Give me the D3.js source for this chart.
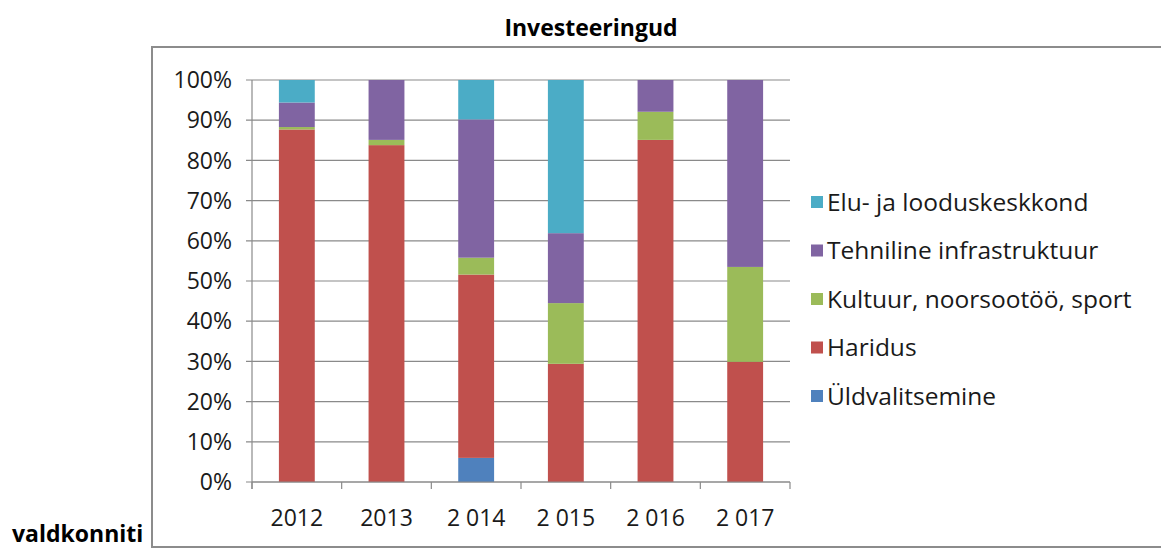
<!DOCTYPE html>
<html>
<head>
<meta charset="utf-8">
<script src="https://cdn.jsdelivr.net/npm/d3@7"></script>
<style>
  body { margin: 0; background: #fff; }
  svg { font-family: "Open Sans", "Noto Sans", sans-serif; }
</style>
</head>
<body>
<svg id="chart" width="1161" height="549"></svg>
<script>
// years on the x axis (labels as printed)
const years = ["2012", "2013", "2 014", "2 015", "2 016", "2 017"];
// segment sizes in % of the year's total, bottom to top
const yldvalitsemine = [0, 0, 6.0, 0, 0, 0];
const haridus = [87.7, 83.8, 45.6, 29.4, 85.1, 29.9];
const kultuur = [0.6, 1.3, 4.2, 15.1, 7.0, 23.6];
const tehniline = [6.1, 14.9, 34.4, 17.4, 7.9, 46.5];
const elu = [5.6, 0, 9.8, 38.1, 0, 0];
const seriesNames = ["Üldvalitsemine", "Haridus", "Kultuur, noorsootöö, sport", "Tehniline infrastruktuur", "Elu- ja looduskeskkond"];
const seriesColors = ["#4F81BD", "#C0504D", "#9BBB59", "#8064A2", "#4BACC6"];
const yTicks = [0, 10, 20, 30, 40, 50, 60, 70, 80, 90, 100];

const rows = years.map((y, i) => ({
    year: y,
    [seriesNames[0]]: yldvalitsemine[i],
    [seriesNames[1]]: haridus[i],
    [seriesNames[2]]: kultuur[i],
    [seriesNames[3]]: tehniline[i],
    [seriesNames[4]]: elu[i]
}));

const svg = d3.select("#chart");
const margin = { top: 80, left: 252 };
const width = 538, height = 402;

// frame (runs off the right edge)
svg.append("path")
    .attr("d", "M1163,547 L152,547 L152,47 L1163,47")
    .attr("fill", "none")
    .attr("stroke", "#8c8c8c")
    .attr("stroke-width", 2);

svg.append("text")
    .attr("x", 591).attr("y", 36)
    .attr("text-anchor", "middle")
    .attr("font-weight", "bold")
    .attr("font-size", 23)
    .text("Investeeringud");

svg.append("text")
    .attr("x", 12).attr("y", 542)
    .attr("font-weight", "bold")
    .attr("font-size", 23)
    .text("valdkonniti");

const chart = svg.append("g").attr("transform", `translate(${margin.left},${margin.top})`);

const x = d3.scaleBand().domain(years).range([0, width]).paddingInner(0.6).paddingOuter(0.3);
const y = d3.scaleLinear().domain([0, 100]).range([height, 0]);
const color = d3.scaleOrdinal().domain(seriesNames).range(seriesColors);

// gridlines
chart.append("g")
    .selectAll("line")
    .data(yTicks)
    .join("line")
    .attr("x1", -6).attr("x2", width)
    .attr("y1", d => y(d)).attr("y2", d => y(d))
    .attr("stroke", "#8a8a8a")
    .attr("stroke-width", 1.2);

// y axis line
chart.append("line")
    .attr("x1", 0).attr("x2", 0).attr("y1", 0).attr("y2", height + 7)
    .attr("stroke", "#8a8a8a").attr("stroke-width", 1.2);

// y labels
chart.append("g")
    .selectAll("text")
    .data(yTicks)
    .join("text")
    .attr("x", -20)
    .attr("y", d => y(d))
    .attr("dy", "0.36em")
    .attr("text-anchor", "end")
    .attr("font-size", 23)
    .attr("fill", "#1a1a1a")
    .text(d => d + "%");

// stacked bars
const stack = d3.stack().keys(seriesNames);
const layers = stack(rows);

chart.append("g")
    .selectAll("g")
    .data(layers)
    .join("g")
    .attr("fill", d => color(d.key))
    .selectAll("rect")
    .data(d => d)
    .join("rect")
    .attr("x", d => x(d.data.year))
    .attr("width", x.bandwidth())
    .attr("y", d => y(d[1]))
    .attr("height", d => y(d[0]) - y(d[1]));

// x axis ticks at category boundaries
const bounds = d3.range(years.length + 1).map(i => i * x.step());
chart.append("g")
    .selectAll("line")
    .data(bounds)
    .join("line")
    .attr("x1", d => d).attr("x2", d => d)
    .attr("y1", height).attr("y2", height + 7)
    .attr("stroke", "#8a8a8a").attr("stroke-width", 1.2);

chart.append("line")
    .attr("x1", 0).attr("x2", width).attr("y1", height).attr("y2", height)
    .attr("stroke", "#8a8a8a").attr("stroke-width", 1.2);

chart.append("g")
    .selectAll("text")
    .data(years)
    .join("text")
    .attr("x", d => x(d) + x.bandwidth() / 2)
    .attr("y", height + 44)
    .attr("text-anchor", "middle")
    .attr("font-size", 23)
    .attr("fill", "#1a1a1a")
    .text(d => d);

// legend
const legend = svg.append("g").attr("transform", "translate(811,202)");
const legendItems = seriesNames.slice().reverse();
const item = legend.selectAll("g")
    .data(legendItems)
    .join("g")
    .attr("transform", (d, i) => `translate(0,${i * 48.5})`);
item.append("rect")
    .attr("x", 0).attr("y", -6)
    .attr("width", 12).attr("height", 12)
    .attr("fill", d => color(d));
item.append("text")
    .attr("x", 16)
    .attr("dy", "0.36em")
    .attr("font-size", 24.5)
    .attr("fill", "#1a1a1a")
    .text(d => d);
</script>
</body>
</html>
